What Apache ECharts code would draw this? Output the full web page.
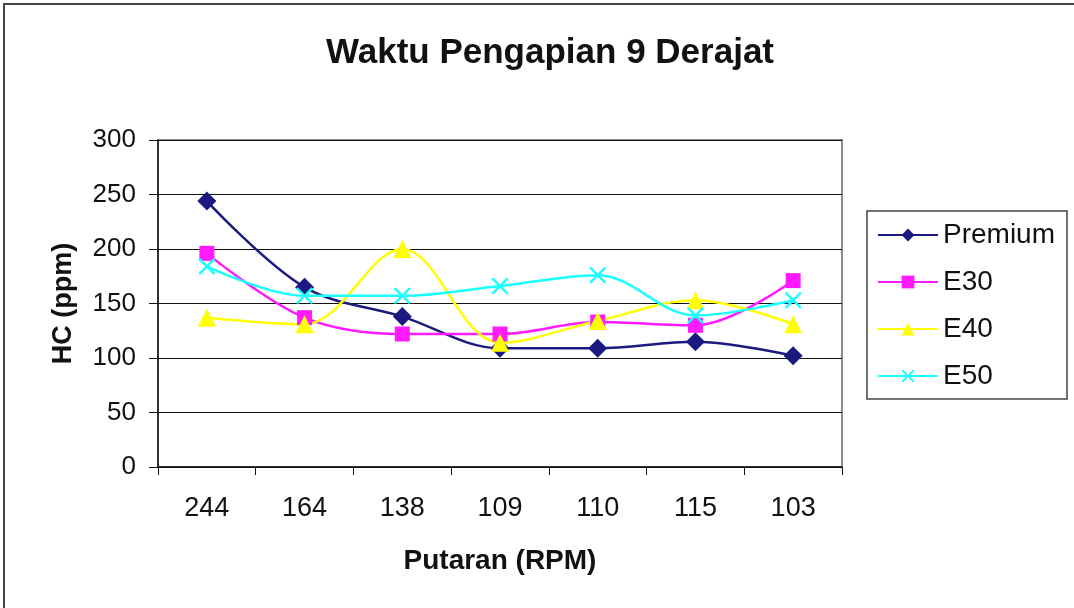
<!DOCTYPE html>
<html>
<head>
<meta charset="utf-8">
<title>Waktu Pengapian 9 Derajat</title>
<script src="https://cdn.jsdelivr.net/npm/echarts@6/dist/echarts.min.js"></script>
<style>
	html, body { margin: 0; padding: 0; background: #fff; }
	#chart { width: 1074px; height: 608px; }
</style>
</head>
<body>
<div id="chart"></div>
<script>
var rpmArr = ['244', '164', '138', '109', '110', '115', '103'];
var premiumArr = [244, 165, 138, 109, 109, 115, 102];
var e30Arr = [196, 137, 122, 122, 133, 130, 171];
var e40Arr = [137, 131, 200, 114, 134, 153, 131];
var e50Arr = [184, 157, 157, 166, 176, 139, 153];

var fontName = 'Liberation Sans, Arial, sans-serif';
var crossPath = 'path://M0,1L1,0L5,4L9,0L10,1L6,5L10,9L9,10L5,6L1,10L0,9L4,5Z';

function makeLine(name, data, color, symbol, size) {
	return {
		name : name,
		type : 'line',
		smooth : 0.35,
		data : data,
		symbol : symbol,
		symbolSize : size,
		showAllSymbol : true,
		lineStyle : { color : color, width : 2.5 },
		itemStyle : { color : color },
		emphasis : { disabled : true }
	};
}

var chart = echarts.init(document.getElementById('chart'));
var option = {
	backgroundColor : '#fff',
	animation : false,
	title : {
		text : 'Waktu Pengapian 9 Derajat',
		left : 545,
		top : 31,
		textAlign : 'center',
		textStyle : { fontFamily : fontName, fontSize : 35, fontWeight : 'bold', color : '#111' }
	},
	graphic : [{
		type : 'rect',
		shape : { x : 4, y : 4, width : 1100, height : 700 },
		style : { fill : 'none', stroke : '#444', lineWidth : 2 },
		silent : true
	}],
	legend : {
		orient : 'vertical',
		left : 867,
		top : 211,
		padding : [10, 12, 9, 10],
		borderColor : '#444',
		borderWidth : 1.5,
		itemWidth : 60,
		itemHeight : 16,
		itemGap : 19,
		textStyle : { fontFamily : fontName, fontSize : 28, color : '#111' },
		data : ['Premium', 'E30', 'E40', 'E50']
	},
	grid : {
		left : 158,
		top : 140,
		right : 232,
		bottom : 141,
		show : true,
		borderColor : '#8c8c8c',
		borderWidth : 2,
		backgroundColor : 'transparent'
	},
	xAxis : {
		type : 'category',
		data : rpmArr,
		boundaryGap : true,
		name : 'Putaran (RPM)',
		nameLocation : 'middle',
		nameGap : 80,
		nameTextStyle : { fontFamily : fontName, fontSize : 28, fontWeight : 'bold', color : '#111' },
		axisLine : { lineStyle : { color : '#111', width : 1.5 } },
		axisTick : { show : true, length : 8, lineStyle : { color : '#111' } },
		axisLabel : { margin : 28, fontFamily : fontName, fontSize : 27, color : '#111' }
	},
	yAxis : {
		type : 'value',
		min : 0,
		max : 300,
		interval : 50,
		name : 'HC (ppm)',
		nameLocation : 'middle',
		nameRotate : 90,
		nameGap : 81,
		nameTextStyle : { fontFamily : fontName, fontSize : 27, fontWeight : 'bold', color : '#111' },
		axisLine : { show : true, lineStyle : { color : '#111', width : 1.5 } },
		axisTick : { show : true, inside : false, length : 9, lineStyle : { color : '#111' } },
		axisLabel : { margin : 22, fontFamily : fontName, fontSize : 26, color : '#111' },
		splitLine : { lineStyle : { color : '#111', width : 1 } }
	},
	series : [
		makeLine('Premium', premiumArr, '#1a1a80', 'diamond', 19),
		makeLine('E30', e30Arr, '#ff1aff', 'rect', 15),
		makeLine('E40', e40Arr, '#ffff00', 'triangle', 18),
		makeLine('E50', e50Arr, '#1affff', crossPath, 17)
	]
};
chart.setOption(option);
window.onresize = chart.resize;
</script>
</body>
</html>
